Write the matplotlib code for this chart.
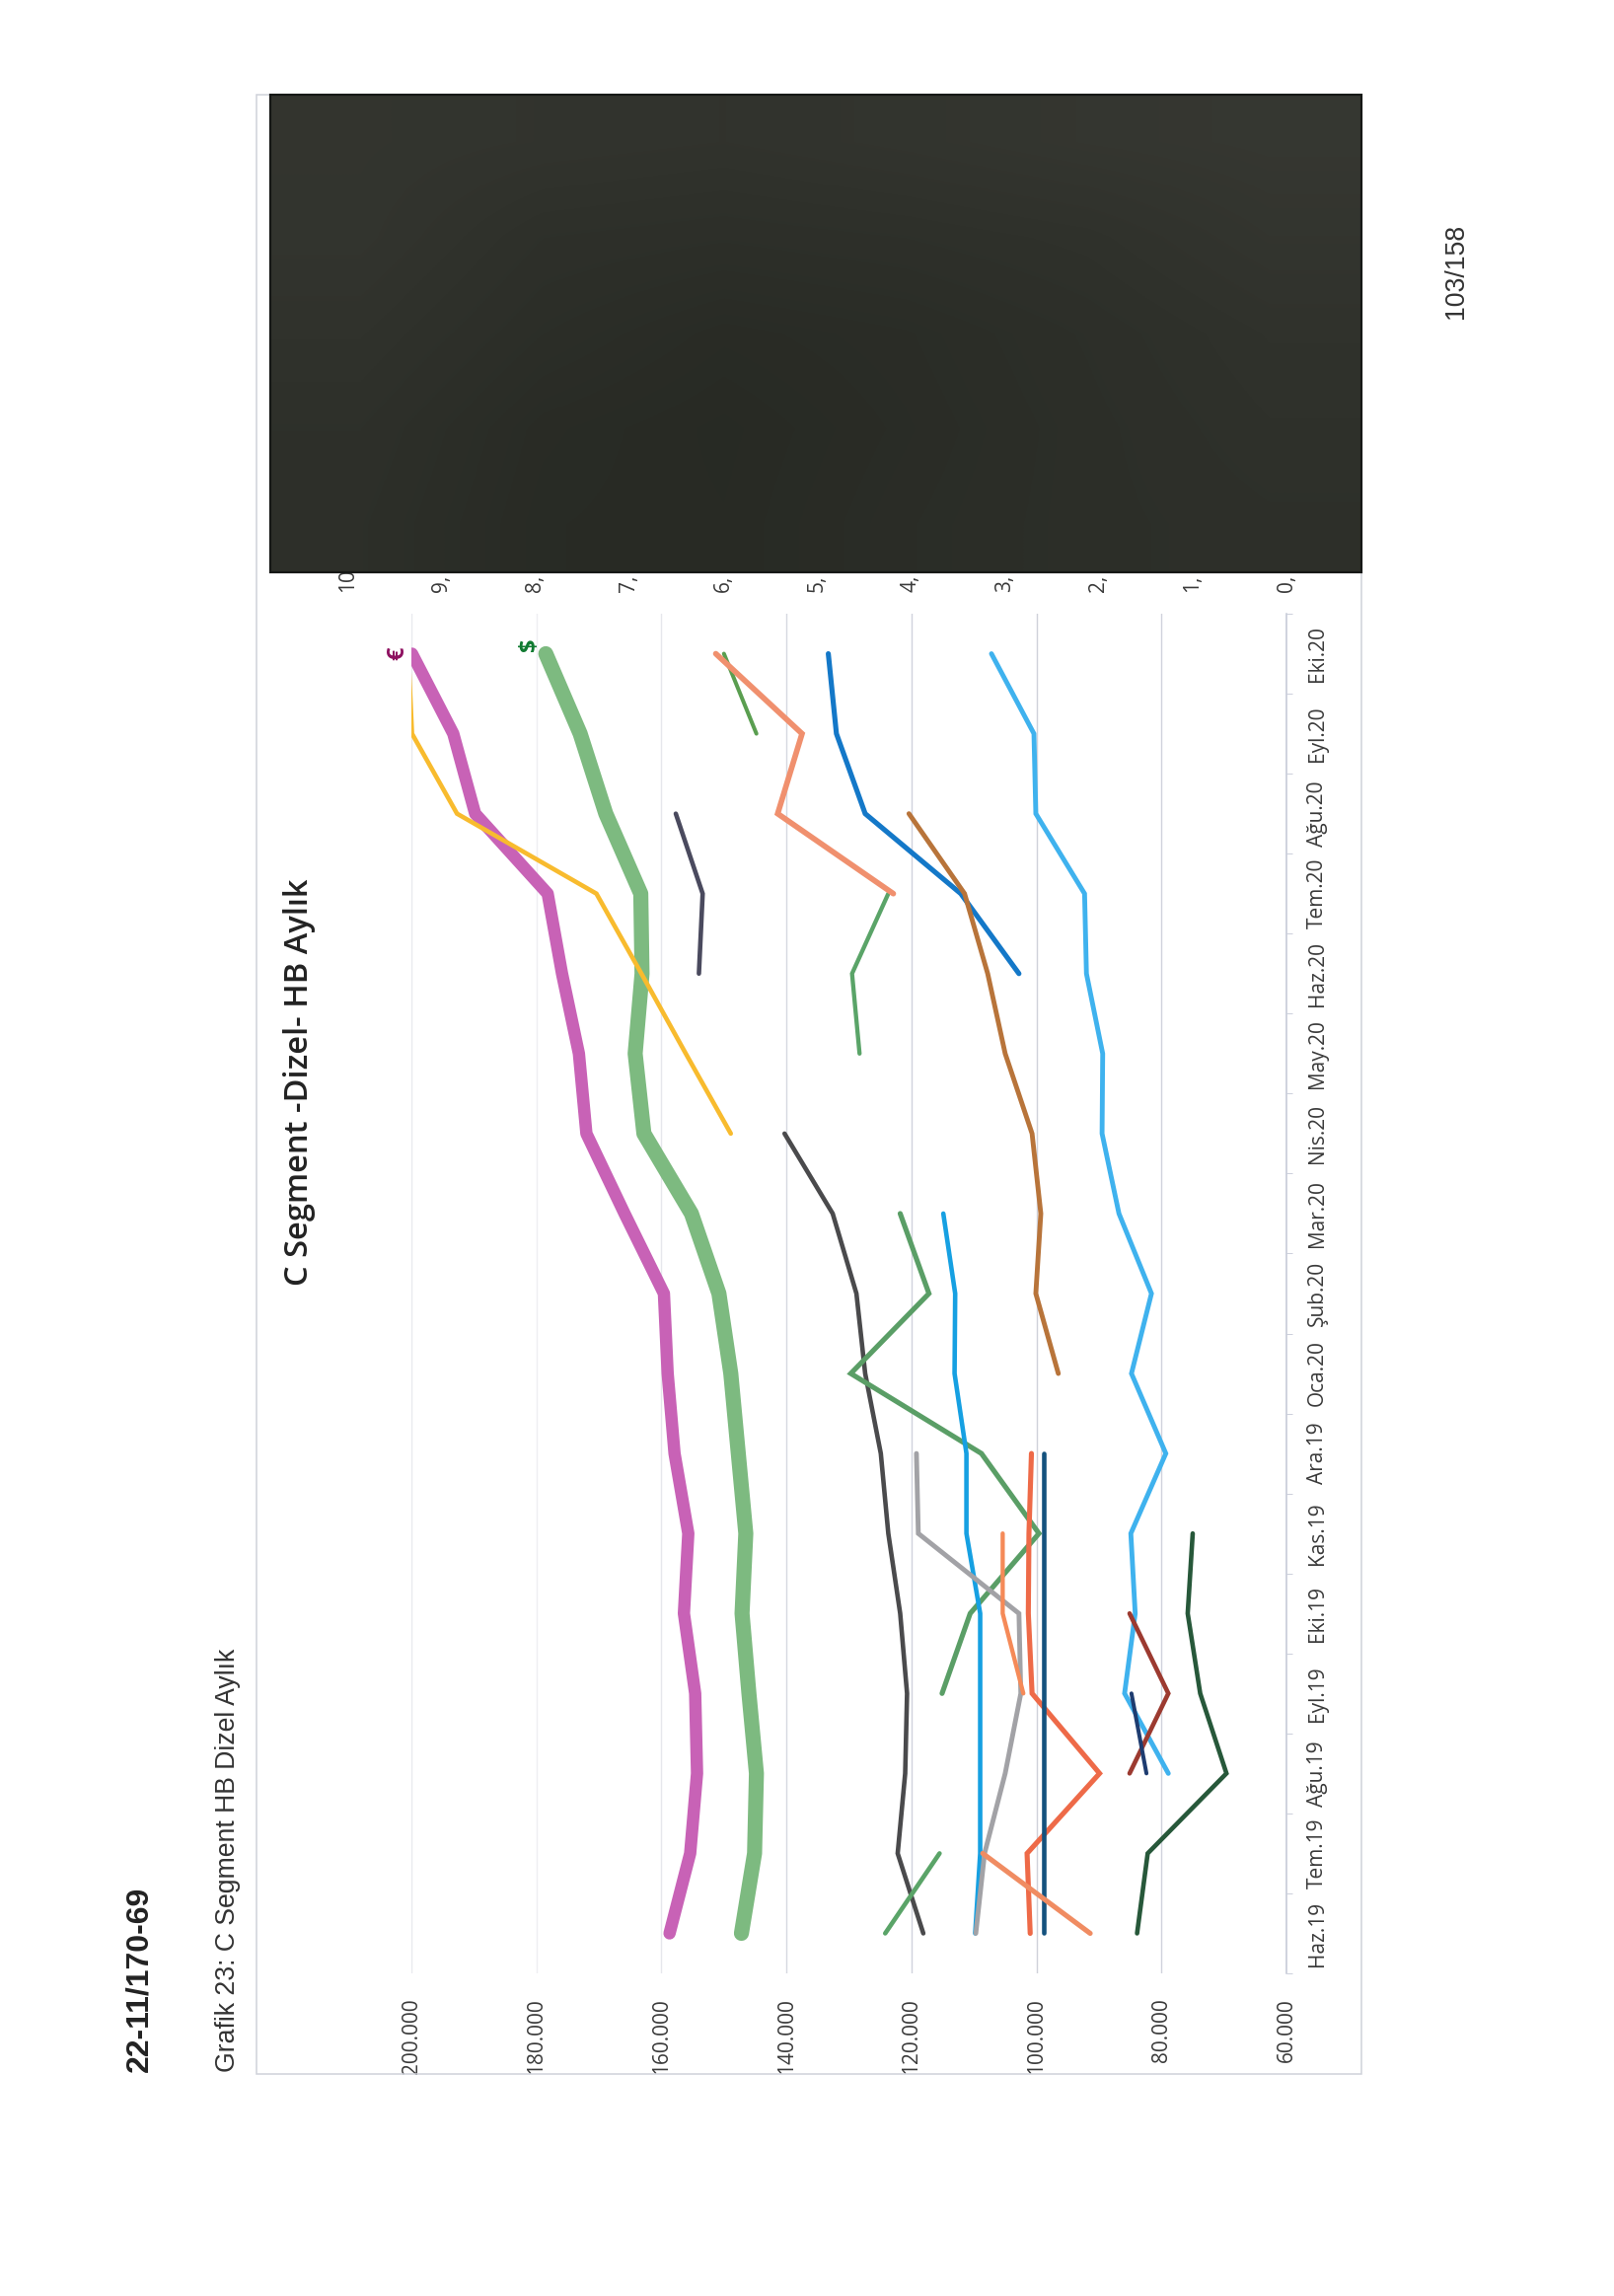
import matplotlib
matplotlib.use('Agg')
import matplotlib.pyplot as plt
from matplotlib.colors import LinearSegmentedColormap
from matplotlib.patches import Rectangle
import numpy as np

nan = float('nan')

months = ['Haz.19', 'Tem.19', 'Ağu.19', 'Eyl.19', 'Eki.19', 'Kas.19', 'Ara.19', 'Oca.20', 'Şub.20',
          'Mar.20', 'Nis.20', 'May.20', 'Haz.20', 'Tem.20', 'Ağu.20', 'Eyl.20', 'Eki.20']
value_ticks = [60, 80, 100, 120, 140, 160, 180, 200]
value_labels = ['60.000', '80.000', '100.000', '120.000', '140.000', '160.000', '180.000', '200.000']
grid_colours = ['#c4c8d6', '#d0d2dc', '#cfd1da', '#d0d2dc', '#d6d8e0', '#e6e7ec', '#eeeef2', '#e8e9ee']
second_ticks = [0, 1, 2, 3, 4, 5, 6, 7, 8, 9]
second_labels = ['0,', '1,', '2,', '3,', '4,', '5,', '6,', '7,', '8,', '9,']

# every series is in thousands, one slot per month, nan where the line has no point
pink = [158.7, 155.4, 154.3, 154.6, 156.4, 155.7, 157.9, 159.0, 159.6, 165.9, 172.0, 173.2, 175.9, 178.2, 189.8, 193.3, 199.9]
green = [147.2, 145.1, 144.8, 146.0, 147.1, 146.5, 147.7, 148.9, 150.8, 155.2, 162.8, 164.2, 163.1, 163.3, 168.9, 173.0, 178.5]
charcoal = [118.1, 122.2, 121.0, 120.7, 121.8, 123.7, 124.9, 127.4, 128.8, 132.6, 140.3] + [nan] * 6
slate = [nan] * 12 + [154.0, 153.4, 157.7, nan, nan]
yellow = [nan] * 10 + [148.9, 156.1, 163.2, 170.4, 192.7, 199.9, 200.5]
green_a = [124.2, 115.5] + [nan] * 15
green_b = [nan] * 3 + [115.1, 110.6, 99.6, 108.8, 129.7, 117.2, 121.8] + [nan] * 7
green_c = [nan] * 11 + [128.3, 129.5, 123.7, nan, nan, nan]
green_d = [nan] * 15 + [144.8, 150.0]
salmon = [nan] * 13 + [122.9, 141.4, 137.5, 151.3]
royal = [nan] * 12 + [102.8, 112.1, 127.4, 132.0, 133.3]
brown = [nan] * 7 + [96.5, 100.1, 99.3, 100.7, 105.0, 107.8, 111.5, 120.4, nan, nan]
sky = [nan, nan, 78.9, 85.9, 84.2, 84.9, 79.3, 84.8, 81.6, 86.8, 89.5, 89.4, 92.0, 92.3, 100.1, 100.4, 107.2]
azure = [109.8, 109.0, 109.0, 109.0, 109.0, 111.2, 111.2, 113.1, 113.0, 114.9] + [nan] * 7
gray = [109.7, 108.3, 105.0, 102.5, 102.8, 118.9, 119.2] + [nan] * 10
red = [101.0, 101.5, 89.9, 100.7, 101.3, 101.2, 100.8] + [nan] * 10
teal = [98.9, 98.9, 98.9, 98.9, 98.9, 98.9, 98.9] + [nan] * 10
orange_a = [91.4, 108.6] + [nan] * 15
orange_b = [nan] * 3 + [102.1, 105.4, 105.4] + [nan] * 11
forest = [83.9, 82.2, 69.6, 73.8, 75.8, 75.0] + [nan] * 11
maroon = [nan, nan, 85.1, 78.9, 85.1] + [nan] * 12
navy = [nan, nan, 82.4, 84.8] + [nan] * 13

# rough light and dark patches of the blacked out block, top row first
block_shades = [[0.62, 0.58, 0.55, 0.60, 0.66, 0.70],
                [0.60, 0.45, 0.42, 0.45, 0.50, 0.62],
                [0.52, 0.38, 0.30, 0.34, 0.42, 0.52],
                [0.45, 0.30, 0.25, 0.32, 0.40, 0.48],
                [0.42, 0.28, 0.26, 0.34, 0.40, 0.44]]

thin_lines = [
    (charcoal, '#4a4a4c', 3.3), (slate, '#4a4a5e', 3.3), (yellow, '#f8bb2e', 3.3),
    (green_a, '#5aa468', 3.3), (green_b, '#5a9e66', 3.7), (green_c, '#5aa468', 3.1), (green_d, '#5a9e50', 2.9),
    (salmon, '#f0906e', 4.1), (royal, '#1478c8', 3.7), (brown, '#b8743a', 3.5),
    (sky, '#3fb2ee', 3.5), (azure, '#16a0e2', 3.3), (gray, '#a2a2a6', 3.5), (red, '#ee6a48', 3.7),
    (teal, '#14527e', 3.3), (orange_a, '#f08c62', 3.7), (orange_b, '#f58a58', 3.1),
    (forest, '#27583a', 3.3), (maroon, '#9c3a30', 3.3), (navy, '#1e3c70', 2.9),
]

W, H = 1636, 2327
plt.rcParams['font.family'] = ['Open Sans', 'DejaVu Sans']
fig = plt.figure(figsize=(W / 100, H / 100), dpi=100, facecolor='white')

# plot area in page pixels, the chart is scanned a quarter turn to the left
left, right, top, bottom = 417, 1304, 622, 2000
ax = fig.add_axes([left / W, 1 - bottom / H, (right - left) / W, (bottom - top) / H])
ax.set_xlim(200, 60)
ax.set_ylim(-0.5, 16.5)
for side in ['top', 'left', 'bottom']:
    ax.spines[side].set_visible(False)
ax.spines['right'].set_color('#c4c8d6')
ax.spines['right'].set_linewidth(1.1)
ax.set_axisbelow(True)

ax.set_xticks(value_ticks)
ax.set_xticklabels(value_labels, rotation=90, fontsize=15, color='#3a3a3a', va='top')
ax.tick_params(axis='x', length=0, pad=18)
ax.grid(axis='x', linewidth=1.0)
for line, colour in zip(ax.get_xgridlines(), grid_colours):
    line.set_color(colour)

ax.set_yticks(range(len(months)))
ax.set_yticklabels(months, rotation=90, fontsize=15, color='#3a3a3a', va='center')
ax.yaxis.tick_right()
ax.tick_params(axis='y', length=0, pad=15)
ax.set_yticks(np.arange(-0.5, 17, 1), minor=True)
ax.tick_params(axis='y', which='minor', length=4, color='#c4c8d6', right=True, left=False)

x = np.arange(len(months))
ax.plot(pink, x, color='#c862b6', linewidth=9, solid_capstyle='round', solid_joinstyle='round', zorder=3)
ax.plot(green, x, color='#7dba80', linewidth=11, solid_capstyle='round', solid_joinstyle='round', zorder=3)
for values, colour, width in thin_lines:
    ax.plot(values, x, color=colour, linewidth=width, solid_capstyle='round', solid_joinstyle='miter', zorder=4)

ax.text(pink[-1] + 2.3, x[-1], '€', rotation=90, fontsize=17, fontweight='bold', color='#8e1060', ha='center', va='center')
ax.text(green[-1] + 2.5, x[-1] + 0.12, '$', rotation=90, fontsize=17, fontweight='bold', color='#0f7a30', ha='center', va='center')

# the cut off second axis sits under the dark block
ax2 = ax.twiny()
for side in ax2.spines:
    ax2.spines[side].set_visible(False)
ax2.set_xticks(second_ticks)
ax2.set_xticklabels(second_labels, rotation=90, fontsize=15, color='#3a3a3a')
ax2.set_xlim(9.32, 0)
ax2.tick_params(axis='x', length=0, pad=15.5)
# 10 falls just past the 200.000 end of the axis
ax2.annotate('10', xy=(10, 1), xycoords=ax2.get_xaxis_transform(), annotation_clip=False,
             xytext=(0, 15.5), textcoords='offset points', rotation=90, fontsize=15, color='#3a3a3a',
             ha='center', va='bottom')

page = fig.add_axes([0, 0, 1, 1], zorder=5)
page.patch.set_alpha(0)
page.axis('off')

block_cmap = LinearSegmentedColormap.from_list('block', ['#20231d', '#3f403a'])
page.imshow(block_shades, cmap=block_cmap, vmin=0, vmax=1, interpolation='bilinear', aspect='auto',
            extent=(274, 1380, 580, 96))
page.add_patch(Rectangle((260, 96), 1120, 2006, fill=False, edgecolor='#cfd2da', linewidth=1.1, zorder=0))
page.add_patch(Rectangle((274, 96), 1106, 484, fill=False, edgecolor='#161816', linewidth=1.6))
page.set_xlim(0, W)
page.set_ylim(H, 0)

page.text(141, 2100, '22-11/170-69', rotation=90, fontsize=23, fontweight='bold', family='Liberation Sans',
          color='#222222', va='bottom', ha='center')
page.text(231, 2100, 'Grafik 23: C Segment HB Dizel Aylık', rotation=90, fontsize=19.2, family='Liberation Sans',
          color='#333333', va='bottom', ha='center')
page.text(303, 1303, 'C Segment -Dizel- HB Aylık', rotation=90, fontsize=23.5, fontweight='semibold',
          color='#222222', va='bottom', ha='center')
page.text(1476, 323, '103/158', rotation=90, fontsize=19.2, family='Liberation Sans',
          color='#333333', va='bottom', ha='center')

fig.savefig('out.png', dpi=100)
